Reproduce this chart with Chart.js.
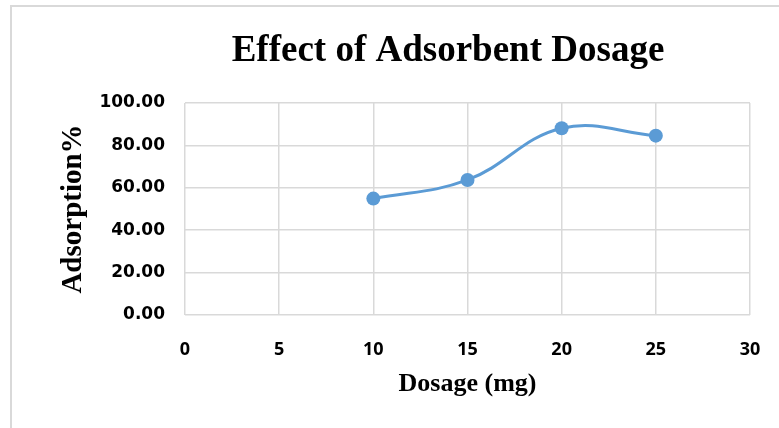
<!DOCTYPE html>
<html>
<head>
<meta charset="utf-8">
<script src="https://cdn.jsdelivr.net/npm/chart.js@4/dist/chart.umd.min.js"></script>
<style>
  html, body { margin: 0; padding: 0; background: #fff; }
  #wrap { width: 779px; height: 428px; }
</style>
</head>
<body>
<div id="wrap"><canvas id="dosage-chart"></canvas></div>
<script>
// dosage (mg) vs adsorption %
var dosage = [10, 15, 20, 25];
var adsorption = [54.9, 63.7, 88.1, 84.6];
var xTicks = [0, 5, 10, 15, 20, 25, 30];
var yTicks = [0, 20, 40, 60, 80, 100];
var chartTitle = 'Effect of Adsorbent Dosage';

var gridColor = '#d9d9d9';
var lineColor = '#5b9bd5';
var serif = '"Liberation Serif", "Times New Roman", serif';

// light frame around the whole chart, plus the heading
var decor = {
    id: 'decor',
    beforeDraw: function(chart) {
        var ctx = chart.ctx;
        ctx.save();
        ctx.strokeStyle = gridColor;
        ctx.lineWidth = 2;
        ctx.strokeRect(11, 6, chart.width + 20, chart.height + 20);

        ctx.fillStyle = '#000';
        ctx.font = 'bold 37px ' + serif;
        ctx.textAlign = 'center';
        ctx.textBaseline = 'alphabetic';
        ctx.fillText(chartTitle, 448, 61);
        ctx.restore();
    }
};

var points = [];
for (let i = 0; i < dosage.length; i++) {
    points.push({ x: dosage[i], y: adsorption[i] });
}

function drawChart() {
    var ctx = document.getElementById('dosage-chart');
    new Chart(ctx, {
        type: 'scatter',
        data: {
            datasets: [{
                data: points,
                showLine: true,
                borderColor: lineColor,
                backgroundColor: lineColor,
                borderWidth: 3,
                tension: 0.4,
                pointRadius: 7,
                pointBorderWidth: 0,
                pointHoverRadius: 7
            }]
        },
        options: {
            responsive: true,
            maintainAspectRatio: false,
            animation: false,
            layout: { padding: { left: 0, right: 29, top: 103, bottom: 0 } },
            plugins: {
                legend: { display: false },
                tooltip: { enabled: false }
            },
            scales: {
                x: {
                    type: 'linear',
                    min: 0,
                    max: 30,
                    afterBuildTicks: function(axis) {
                        axis.ticks = xTicks.map(function(v) { return { value: v }; });
                    },
                    afterFit: function(axis) {
                        axis.height = 113;
                        // the label padding would otherwise eat into the right side
                        axis.paddingLeft = 0;
                        axis.paddingRight = 0;
                    },
                    grid: { color: gridColor, lineWidth: 1.5, drawTicks: false },
                    border: { display: false },
                    ticks: {
                        color: '#000',
                        padding: 24,
                        font: { family: '"Open Sans", sans-serif', size: 18, weight: 'bold' }
                    },
                    title: {
                        display: true,
                        text: 'Dosage (mg)',
                        color: '#000',
                        font: { family: serif, size: 26, weight: 'bold' },
                        padding: { top: 0, bottom: 28 }
                    }
                },
                y: {
                    min: 0,
                    max: 100,
                    afterBuildTicks: function(axis) {
                        axis.ticks = yTicks.map(function(v) { return { value: v }; });
                    },
                    afterFit: function(axis) { axis.width = 185; },
                    grid: { color: gridColor, lineWidth: 1.5, drawTicks: false },
                    border: { display: false },
                    ticks: {
                        color: '#000',
                        padding: 20,
                        font: { family: '"DejaVu Sans", sans-serif', size: 17, weight: 'bold' },
                        callback: function(v) { return v.toFixed(2); }
                    },
                    title: {
                        display: true,
                        text: 'Adsorption%',
                        color: '#000',
                        font: { family: serif, size: 29, weight: 'bold' },
                        padding: { top: 56, bottom: 0 }
                    }
                }
            }
        },
        plugins: [decor]
    });
}

drawChart();
</script>
</body>
</html>
